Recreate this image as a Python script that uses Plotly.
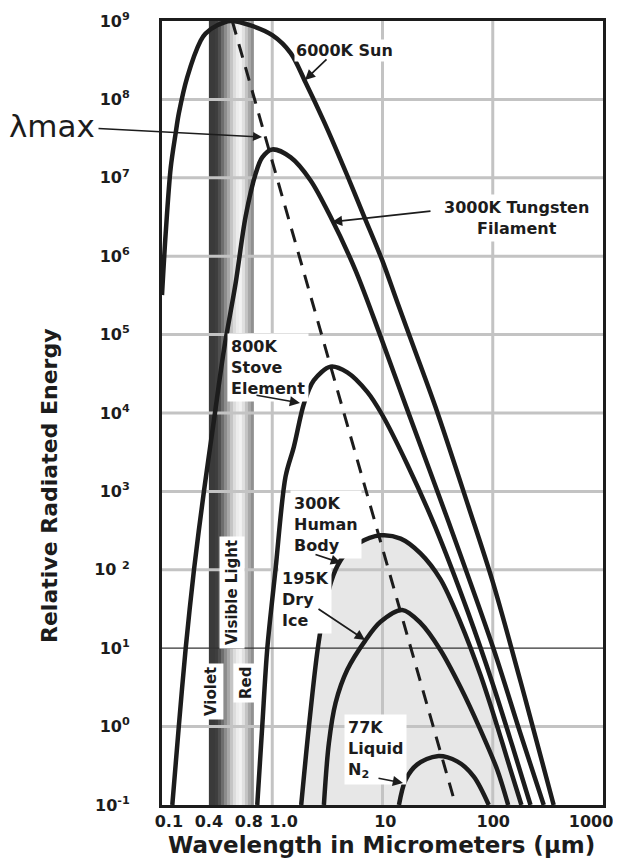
import plotly.graph_objects as go

# ---------------- data ----------------
# Wavelength in micrometers / relative radiated energy
SUN_UM = [0.100, 0.108, 0.120, 0.133, 0.142, 0.169, 0.224, 0.248, 0.317, 0.419, 0.635,
          1.0, 1.47, 2.0, 2.94, 4.79, 6.76, 9.93, 13.6, 19.2, 30.2, 60, 100, 200, 357]
SUN_E = [3.2e5, 1.95e6, 1.35e7, 3.7e7, 6.6e7, 1.9e8, 5.6e8, 6.9e8, 8.8e8, 1.0e9, 8.8e8,
         6.6e8, 3.9e8, 1.66e8, 5.25e7, 1.07e7, 3.3e6, 8.9e5, 2.6e5, 6.9e4, 1.2e4, 650, 70, 2.1, 0.1]

TUNG_UM = [0.124, 0.142, 0.164, 0.195, 0.240, 0.296, 0.364, 0.465, 0.573, 0.706, 0.811,
           1.0, 1.47, 2.22, 3.37, 5.69, 9.6, 16.2, 40, 100, 180, 290]
TUNG_E = [0.1, 1.0, 10, 100, 1000, 8.1e3, 6.3e4, 4.5e5, 3.2e6, 1.12e7, 1.82e7,
          2.3e7, 1.82e7, 9.3e6, 3.2e6, 6.6e5, 9.5e4, 1.26e4, 398, 10.5, 0.78, 0.1]

STOVE_UM = [0.731, 0.811, 0.902, 1.07, 1.32, 1.57, 1.94, 2.38, 3.38, 4.79, 7.27, 9.93,
            16.7, 30, 60, 100, 150, 220]
STOVE_E = [0.1, 1, 10, 100, 1540, 3700, 1.32e4, 2.6e4, 3.9e4, 3.3e4, 1.86e4, 9.5e3,
           2.24e3, 355, 28, 3.5, 0.58, 0.1]

BODY_UM = [1.83, 2.15, 2.59, 3.09, 3.75, 4.57, 5.90, 9.6, 14.6, 22.1, 33.5, 50.9, 77.3,
           110, 145, 182]
BODY_E = [0.1, 1, 10, 41.7, 100, 158, 214, 275, 250, 162, 76, 21.4, 4.57, 1.0, 0.28, 0.1]

ICE_UM = [2.94, 3.26, 3.75, 4.79, 7.0, 9.6, 15.1, 22.1, 33.5, 50.9, 77.3, 110, 138]
ICE_E = [0.1, 0.61, 2.0, 5.3, 12.6, 21.7, 30.7, 21, 9.5, 3.2, 0.91, 0.28, 0.1]

N2_UM = [14.1, 16.2, 20.7, 31.3, 47.5, 67.3, 92]
N2_E = [0.1, 0.21, 0.33, 0.42, 0.36, 0.23, 0.1]

# Wien displacement (lambda max) line
WIEN_UM = [0.434, 46]
WIEN_E = [1.0e9, 0.1]

# visible-light band: strip edges (um) and brightness of each strip (0 black .. 255 white)
BAND_EDGES_UM = [0.2662, 0.2816, 0.2998, 0.3192, 0.3398, 0.3618, 0.3852, 0.4101,
                 0.4366, 0.4648, 0.4949, 0.5269, 0.5610, 0.5972, 0.6358, 0.6810]
BAND_SHADE = [58, 58, 62, 80, 110, 140, 168, 196, 220, 236, 242, 224, 196, 168, 144]

X_TICK_POS = [0.1155, 0.266, 0.613, 1.27, 10.6, 101, 780]
X_TICK_TEXT = ["0.1", "0.4", "0.8", "1.0", "10", "100", "1000"]
Y_TICK_POS = [1e-1, 1e0, 1e1, 1e2, 1e3, 1e4, 1e5, 1e6, 1e7, 1e8, 1e9]
Y_TICK_TEXT = ["10<sup>-1</sup>", "10<sup>0</sup>", "10<sup>1</sup>", "10 <sup>2</sup>",
               "10<sup>3</sup>", "10<sup>4</sup>", "10<sup>5</sup>", "10<sup>6</sup>",
               "10<sup>7</sup>", "10<sup>8</sup>", "10<sup>9</sup>"]
GRID_X = [1, 10, 100]
GRID_Y = [1e0, 1e2, 1e3, 1e4, 1e5, 1e6, 1e7, 1e8]
DARK_GRID_Y = [1e1]
X_RANGE = [0.1, 1000]
Y_RANGE = [0.1, 1e9]

# ---------------- figure ----------------
PAGE = 8                      # default page margin of the html body
W, H = 621 - PAGE, 867 - PAGE
ML, MR, MT, MB = 162 - PAGE, 18, 21 - PAGE, 62
PW, PH = W - ML - MR, H - MT - MB
FONT = "DejaVu Sans"
INK = "#1c1c1c"


def P(xp, yp):
    """page pixel position -> paper coordinates"""
    return (xp - PAGE - ML) / PW, (PAGE + MT + PH - yp) / PH


fig = go.Figure()

# visible light band
fig.add_trace(go.Heatmap(
    x=BAND_EDGES_UM, y=Y_RANGE, z=[BAND_SHADE], zmin=0, zmax=255,
    colorscale=[[0, "#000000"], [1, "#ffffff"]], showscale=False, hoverinfo="skip"))

# shaded area under the 300K curve
fig.add_trace(go.Scatter(x=BODY_UM, y=BODY_E, mode="lines", fill="toself",
                         fillcolor="#e7e7e7", line=dict(width=0, shape="spline"),
                         hoverinfo="skip", showlegend=False))

# grid lines
gx, gy = [], []
for v in GRID_X:
    gx += [v, v, None]
    gy += [Y_RANGE[0], Y_RANGE[1], None]
for v in GRID_Y:
    gx += [X_RANGE[0], X_RANGE[1], None]
    gy += [v, v, None]
fig.add_trace(go.Scatter(x=gx, y=gy, mode="lines", line=dict(color="#c3c3c3", width=3),
                         hoverinfo="skip", showlegend=False))
dx, dy = [], []
for v in DARK_GRID_Y:
    dx += [X_RANGE[0], X_RANGE[1], None]
    dy += [v, v, None]
fig.add_trace(go.Scatter(x=dx, y=dy, mode="lines", line=dict(color="#333333", width=1.2),
                         hoverinfo="skip", showlegend=False))

# blackbody curves
for xs, ys, name in [(SUN_UM, SUN_E, "6000K"), (TUNG_UM, TUNG_E, "3000K"),
                     (STOVE_UM, STOVE_E, "800K"), (BODY_UM, BODY_E, "300K"),
                     (ICE_UM, ICE_E, "195K"), (N2_UM, N2_E, "77K")]:
    fig.add_trace(go.Scatter(x=xs, y=ys, mode="lines", name=name,
                             line=dict(color=INK, width=4.5, shape="spline", smoothing=0.9),
                             showlegend=False))

# lambda max line
fig.add_trace(go.Scatter(x=WIEN_UM, y=WIEN_E, mode="lines",
                         line=dict(color=INK, width=3, dash="14px,10px"),
                         showlegend=False))

annotations = []


def label(text, xp, yp, xanchor="center", size=16, angle=0, align="center", bg="white",
          weight=700, pad=3):
    x, y = P(xp, yp)
    annotations.append(dict(text=text, x=x, y=y, xref="paper", yref="paper",
                            xanchor=xanchor, yanchor="middle", showarrow=False,
                            align=align, textangle=angle, bgcolor=bg, borderpad=pad,
                            font=dict(family=FONT, size=size, color=INK, weight=weight)))


def arrow(tail, tip, width=1.7):
    x, y = P(*tip)
    annotations.append(dict(text="", x=x, y=y, xref="paper", yref="paper",
                            ax=tail[0] - tip[0], ay=tail[1] - tip[1], showarrow=True,
                            arrowhead=2, arrowsize=1.2, arrowwidth=width, arrowcolor=INK,
                            standoff=0, startstandoff=0))


label("6000K Sun", 344, 50, pad=1)
label("3000K Tungsten<br>Filament", 516, 218)
label("800K<br>Stove<br>Element", 227, 368, xanchor="left", align="left")
label("300K<br>Human<br>Body", 290, 524, xanchor="left", align="left")
label("195K<br>Dry<br>Ice", 278, 599, xanchor="left", align="left")
label("77K<br>Liquid<br>N<sub>2</sub>", 344, 749, xanchor="left", align="left")
label("Visible Light", 232, 593, angle=-90, size=15)
label("Violet", 211, 692, angle=-90, size=15)
label("Red", 246, 683, angle=-90, size=15)

# pointers from the labels to their curves (drawn above the label boxes)
arrow((328, 58), (305, 80))
arrow((432, 211), (332, 222))
arrow((255, 395), (300, 403))
arrow((314, 554), (341, 563))
arrow((317, 608), (365, 640))
arrow((377, 778), (403, 783))

# lambda-max label with its pointer
LBL = (52, 126)
TIP = (262, 137)
tx, ty = P(*TIP)
annotations.append(dict(text="λmax", x=tx, y=ty, xref="paper", yref="paper",
                        ax=LBL[0] - TIP[0], ay=LBL[1] - TIP[1], axref="pixel", ayref="pixel",
                        showarrow=True, arrowhead=2, arrowsize=1.2, arrowwidth=1.5,
                        arrowcolor=INK, standoff=0, startstandoff=2,
                        font=dict(family=FONT, size=31, color=INK)))

# axis titles
label("Wavelength in Micrometers (µm)", 381, 845, size=23, bg="rgba(0,0,0,0)")
label("Relative Radiated Energy", 49, 485, size=22, angle=-90, bg="rgba(0,0,0,0)")

fig.update_layout(
    width=W, height=H, margin=dict(l=ML, r=MR, t=MT, b=MB, autoexpand=False),
    paper_bgcolor="white", plot_bgcolor="white", showlegend=False,
    annotations=annotations,
    font=dict(family=FONT, color=INK),
    xaxis=dict(type="log", range=[-1, 3], showgrid=False, zeroline=False, automargin=False,
               tickvals=X_TICK_POS, ticktext=X_TICK_TEXT, ticks="",
               tickfont=dict(family=FONT, size=16, color=INK, weight=700),
               showline=True, mirror=True, linecolor=INK, linewidth=3),
    yaxis=dict(type="log", range=[-1, 9], showgrid=False, zeroline=False, automargin=False,
               tickvals=Y_TICK_POS, ticktext=Y_TICK_TEXT, ticks="",
               tickfont=dict(family=FONT, size=16, color=INK, weight=700),
               ticklabelstandoff=26,
               showline=True, mirror=True, linecolor=INK, linewidth=3),
)

fig.write_html("out.html")
